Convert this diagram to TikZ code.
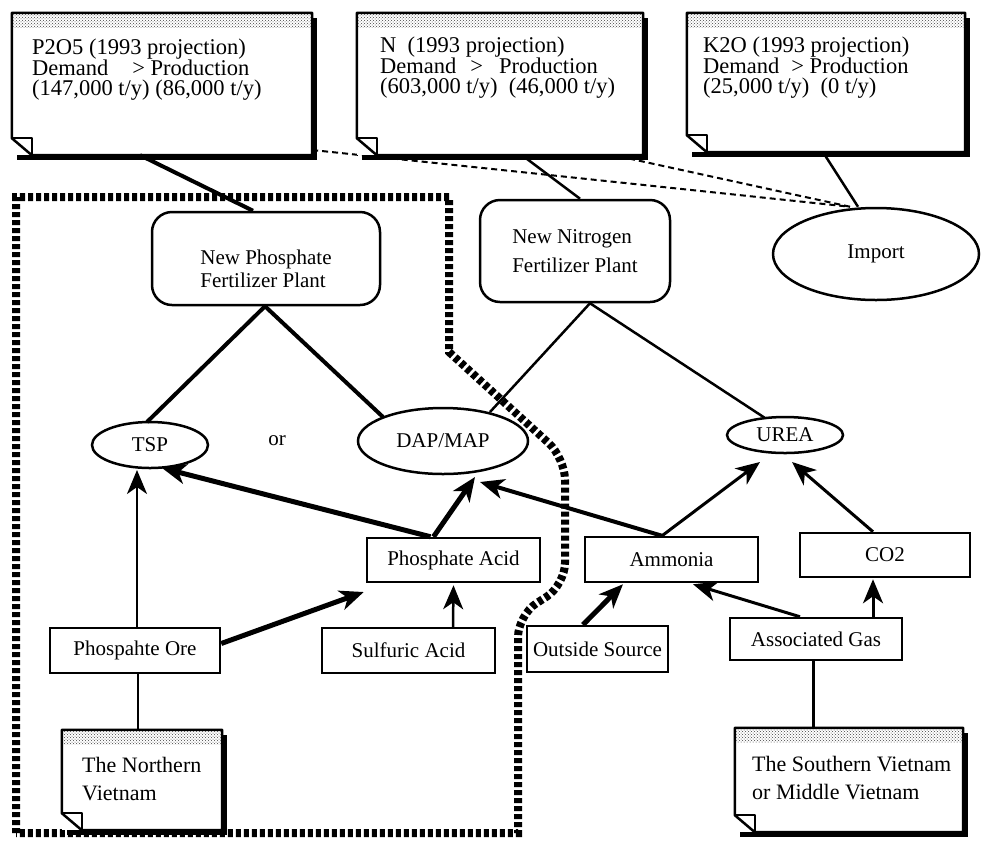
\documentclass[tikz,border=0pt]{standalone}
\usepackage{fontspec}
\setmainfont{Liberation Serif}
\usetikzlibrary{arrows.meta,shapes.geometric,patterns,shadows,calc}
\pgfdeclarelayer{background}
\pgfsetlayers{background,main}
\newcommand\noteframe[1]{%
  \draw[line width=2.5pt, line join=round, fill=white]
    ($(#1.south west)+(0,-17)$) -- (#1.north west) -- (#1.north east) -- (#1.south east)
    -- ($(#1.south west)+(20,0)$) -- cycle;
  \fill[pattern=crosshatch dots, pattern color=black!75]
    ($(#1.north west)+(1.5,1.5)$) rectangle ($(#1.north east)+(-1.5,15)$);
  \draw[line width=2pt, line join=round]
    ($(#1.south west)+(0,-17)$) -- ($(#1.south west)+(20,-17)$) -- ($(#1.south west)+(20,0)$);
}
\begin{document}
\begin{tikzpicture}[x=1pt,y=-1pt,
  txt/.style={font=\fontsize{21}{23}\selectfont},
  notetxt/.style={font=\fontsize{22.5}{20.5}\selectfont, align=left, anchor=west, inner sep=0pt},
  note/.style={fill=white, inner sep=0pt,
    drop shadow={shadow xshift=5pt, shadow yshift=-5pt, fill=black, opacity=1}},
  rbox/.style={draw, line width=2.5pt, fill=white, inner sep=0pt, txt},
  plant/.style={draw, line width=2.5pt, fill=white, rounded corners=20pt, inner sep=0pt, align=left, txt},
  ell/.style={draw, ellipse, line width=2.5pt, fill=white, inner sep=0pt, txt},
  border/.style={line width=8pt, dash pattern=on 5pt off 3pt},
  link/.style={line width=#1},
  arr/.style={line width=#1, -{Stealth[length=24pt,width=20pt,inset=7pt]}},
  dash line/.style={line width=2pt, dash pattern=on 6pt off 4pt}
]
\useasboundingbox (0,0) rectangle (984,847);

% thick dotted frame of the phosphate region
\draw[border] (16,833) -- (16,197) -- (449,197) -- (449,352)
  [rounded corners=22pt] -- (565,458) -- (565,585) -- (518,615) [sharp corners] -- (518,833) -- cycle;

% notes
\node[note, minimum width=300pt, minimum height=142pt] (n1) at (162,84) {};
\noteframe{n1}
\node[note, minimum width=286pt, minimum height=142pt] (n2) at (500,84) {};
\noteframe{n2}
\node[note, minimum width=278pt, minimum height=139pt] (n3) at (826,82.5) {};
\noteframe{n3}
\node[note, minimum width=160pt, minimum height=100pt] (nv) at (142,780) {};
\noteframe{nv}
\node[note, minimum width=228pt, minimum height=104pt] (sv) at (849,780) {};
\noteframe{sv}

\node[notetxt] (n1t) at (32,70) {P2O5 (1993 projection)\\Demand\hspace{24pt}> Production\\(147,000 t/y) (86,000 t/y)};
\node[notetxt] (n2t) at (380,68) {N\enspace(1993 projection)\\Demand\hspace{14pt}>\hspace{16pt}Production\\(603,000 t/y)\enspace(46,000 t/y)};
\node[notetxt] (n3t) at (703,68) {K2O (1993 projection)\\Demand\hspace{12pt}> Production\\(25,000 t/y)\enspace(0 t/y)};
\node[notetxt, font=\fontsize{22}{28}\selectfont] (nvt) at (82,779) {The Northern\\Vietnam};
\node[notetxt, font=\fontsize{22}{28}\selectfont] (svt) at (752,778) {The Southern Vietnam\\or Middle Vietnam};

% plants and products
\node[plant, minimum width=228pt, minimum height=93pt] (pp) at (266,258.5) {\rule{0pt}{35pt}New Phosphate\\Fertilizer Plant};
\node[plant, minimum width=190pt, minimum height=102pt] (np) at (575,251) {New Nitrogen\\[6pt]Fertilizer Plant};
\node[ell, minimum width=206pt, minimum height=92pt] (imp) at (876,254) {Import};
\node[ell, minimum width=116pt, minimum height=46pt] (tsp) at (150,445) {TSP};
\node[txt, inner sep=0pt] (or) at (277,441) {or};
\node[ell, minimum width=170pt, minimum height=66pt] (dap) at (443,441) {DAP/MAP};
\node[ell, minimum width=116pt, minimum height=36pt] (urea) at (785,435) {UREA};

% raw materials
\node[rbox, minimum width=173pt, minimum height=44pt] (pa) at (453.5,560) {Phosphate Acid};
\node[rbox, minimum width=173pt, minimum height=45pt] (sa) at (408.5,650.5) {Sulfuric Acid};
\node[rbox, minimum width=170pt, minimum height=45pt] (ore) at (135,650.5) {Phospahte Ore};
\node[rbox, minimum width=141pt, minimum height=46pt] (os) at (597.5,649) {Outside Source};
\node[rbox, minimum width=173pt, minimum height=45pt] (am) at (671.5,559.5) {Ammonia};
\node[rbox, minimum width=170pt, minimum height=44pt] (co) at (885,555) {CO2};
\node[rbox, minimum width=172pt, minimum height=42pt] (ag) at (816,639) {Associated Gas};

% dashed import links (behind notes)
\begin{pgfonlayer}{background}
\draw[dash line] ($(n1.east)+(0,66)$) -- ($(imp.north)+(-26,0)$);
\draw[dash line] (590,150) -- ($(imp.north)+(-26,0)$);
\end{pgfonlayer}

% plain links
\draw[link=4pt] ($(n1.south)+(-22,0)$) -- ($(pp.north)+(-13,0)$);
\draw[link=2.5pt] ($(n2.south)+(22,0)$) -- ($(np.north)+(5,0)$);
\draw[link=2.5pt] ($(n3.south)+(-3,0)$) -- ($(imp.north)+(-18,0)$);
\draw[link=4pt, line join=round] ($(tsp.center)+(-3,-23)$) -- ($(pp.south)+(-1,0)$) -- ($(dap.center)+(-60,-24)$);
\draw[link=2.5pt, line join=round] ($(dap.center)+(47,-29)$) -- ($(np.south)+(15,0)$) -- ($(urea.center)+(-20,-17)$);
\draw[link=2.5pt] ($(ore.south)+(3,0)$) -- ($(nv.north)+(-4,0)$);
\draw[link=3pt] ($(ag.south)+(-3,0)$) -- ($(sv.north)+(-36,0)$);

% arrows
\draw[arr=2.5pt] ($(ore.north)+(2,0)$) -- ($(tsp.center)+(-13,25)$);
\draw[arr=5pt] ($(pa.north)+(-23,0)$) -- ($(tsp.center)+(12,23)$);
\draw[arr=5pt] ($(pa.north)+(-20,0)$) -- ($(dap.center)+(32,36)$);
\draw[arr=5pt] ($(ore.east)+(0,-7)$) -- ($(pa.west)+(-2,32)$);
\draw[arr=2.5pt] ($(sa.north)+(44.5,0)$) -- ($(pa.south)+(0,2)$);
\draw[arr=5pt] ($(os.north)+(-14.5,0)$) -- ($(am.south)+(-48.5,1)$);
\draw[arr=4pt] ($(am.north)+(-9.5,0)$) -- ($(dap.center)+(37,41)$);
\draw[arr=3pt] ($(am.north)+(-9.5,0)$) -- ($(urea.center)+(-25,27)$);
\draw[arr=3pt] ($(co.north)+(-12,0)$) -- ($(urea.center)+(7,27)$);
\draw[arr=3pt] ($(ag.north)+(57,0)$) -- ($(co.south)+(-12,1)$);
\draw[arr=3pt] ($(ag.north)+(-16,0)$) -- ($(am.south)+(21.5,1)$);
\end{tikzpicture}
\end{document}
